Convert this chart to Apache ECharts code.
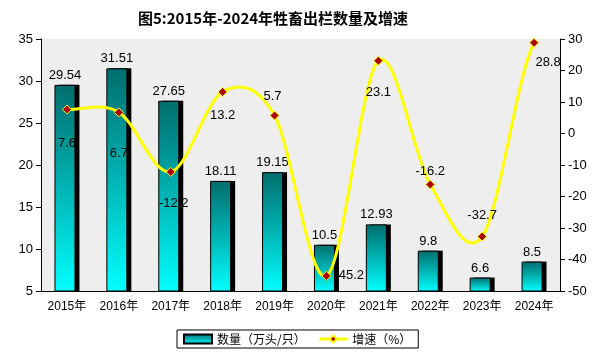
<!DOCTYPE html>
<html><head><meta charset="utf-8">
<script src="https://cdn.jsdelivr.net/npm/echarts@6/dist/echarts.min.js"></script>
<style>html,body{margin:0;padding:0;background:#fff}#c{width:609px;height:357px}</style>
</head><body><div id="c"></div>
<script>
const categories = ['2015年','2016年','2017年','2018年','2019年','2020年','2021年','2022年','2023年','2024年'];
const stockValues = [29.54, 31.51, 27.65, 18.11, 19.15, 10.5, 12.93, 9.8, 6.6, 8.5];
const growthValues = [7.6, 6.7, -12.2, 13.2, 5.7, -45.2, 23.1, -16.2, -32.7, 28.8];
const growthLabelPos = ['bottom','bottom','bottom','bottom','top','right','bottom','top','top','bottom'];
const growthLabelDist = [22, 30, 20, 12, 8, 3, 20, 2, 10, 8];
const growthLabelOffX = [0, 0, 3, 0, -2, 0, 0, 0, 0, 14];
const leftTicks = {min:5, max:35, interval:5};
const rightTicks = {min:-50, max:30, interval:10};

const font = 'Liberation Sans, Arial, sans-serif';
const cjk = '"Liberation Sans", "Noto Sans CJK SC", sans-serif';
const barGrad = new echarts.graphic.LinearGradient(0,0,0,1,[{offset:0,color:'#006d6d'},{offset:0.5,color:'#00b4b4'},{offset:1,color:'#00ffff'}]);
const chart = echarts.init(document.getElementById('c'));

function renderCurve(params, api){
  const i = params.dataIndex;
  if (i >= growthValues.length - 1) return null;
  const P = j => api.coord([j, growthValues[Math.max(0, Math.min(growthValues.length-1, j))]]);
  const p0 = P(i-1), p1 = P(i), p2 = P(i+1), p3 = P(i+2);
  const t = 1/6;
  return {type:'bezierCurve', shape:{
      x1:p1[0], y1:p1[1], x2:p2[0], y2:p2[1],
      cpx1:p1[0]+(p2[0]-p0[0])*t, cpy1:p1[1]+(p2[1]-p0[1])*t,
      cpx2:p2[0]-(p3[0]-p1[0])*t, cpy2:p2[1]-(p3[1]-p1[1])*t},
    style:{stroke:'#ffff00', lineWidth:3, fill:null}};
}

chart.setOption({
  animation:false,
  title:{text:'图5:2015年-2024年牲畜出栏数量及增速', left:133, top:6,
    textStyle:{fontSize:15, fontWeight:'bold', color:'#000', fontFamily:'"Noto Sans CJK SC", sans-serif'}},
  grid:{left:41, right:49, top:39, bottom:66, show:true, backgroundColor:'#eeeeee', borderWidth:0},
  legend:{bottom:9, left:177, itemGap:12, borderColor:'#000', borderWidth:1, padding:[3,7,3,6],
    itemWidth:28, itemHeight:9,
    textStyle:{fontSize:12, color:'#000', fontFamily:'"Noto Sans CJK SC", sans-serif'},
    data:[{name:'数量（万头/只）', icon:'rect'},
          {name:'增速（%）', lineStyle:{color:'#ffff00', width:3, opacity:1}}]},
  xAxis:{type:'category', data:categories,
    axisLine:{onZero:false, lineStyle:{color:'#000'}}, axisTick:{inside:true, length:4, lineStyle:{color:'#000'}},
    axisLabel:{color:'#000', fontSize:12, margin:10, fontFamily:cjk}},
  yAxis:[
    {type:'value', min:leftTicks.min, max:leftTicks.max, interval:leftTicks.interval,
     axisLine:{show:true, lineStyle:{color:'#000'}}, axisTick:{show:true, length:5, lineStyle:{color:'#000'}},
     splitLine:{show:false}, axisLabel:{color:'#000', fontSize:13, margin:8, fontFamily:font}},
    {type:'value', min:rightTicks.min, max:rightTicks.max, interval:rightTicks.interval,
     axisLine:{show:true, lineStyle:{color:'#000'}}, axisTick:{show:true, length:5, lineStyle:{color:'#000'}},
     splitLine:{show:false}, axisLabel:{color:'#000', fontSize:13, margin:8, fontFamily:font}}
  ],
  series:[
    {name:'数量（万头/只）', type:'bar', data:stockValues, barWidth:21, yAxisIndex:0, z:3,
     itemStyle:{color:barGrad, borderColor:'#000', borderWidth:1},
     label:{show:true, position:'top', distance:3, color:'#000', fontSize:13, fontFamily:font}},
    {name:'shadow', type:'bar', data:stockValues, barWidth:21, barGap:'-81%', yAxisIndex:0, z:2,
     itemStyle:{color:'#000'}, silent:true},
    {name:'curve', type:'custom', yAxisIndex:1, data:growthValues.map((v,i)=>[i,v]), renderItem:renderCurve, z:4, silent:true},
    {name:'增速（%）', type:'line', yAxisIndex:1,
     data:growthValues.map((v,i)=>({value:v, label:{position:growthLabelPos[i], distance:growthLabelDist[i], offset:[growthLabelOffX[i],0]}})),
     symbol:'diamond', symbolSize:9,
     lineStyle:{color:'#ffff00', width:3, opacity:0}, itemStyle:{color:'#aa0000', borderColor:'#ffff00', borderWidth:1},
     label:{show:true, color:'#000', fontSize:13, fontFamily:font}, z:5}
  ]
});
</script></body></html>
